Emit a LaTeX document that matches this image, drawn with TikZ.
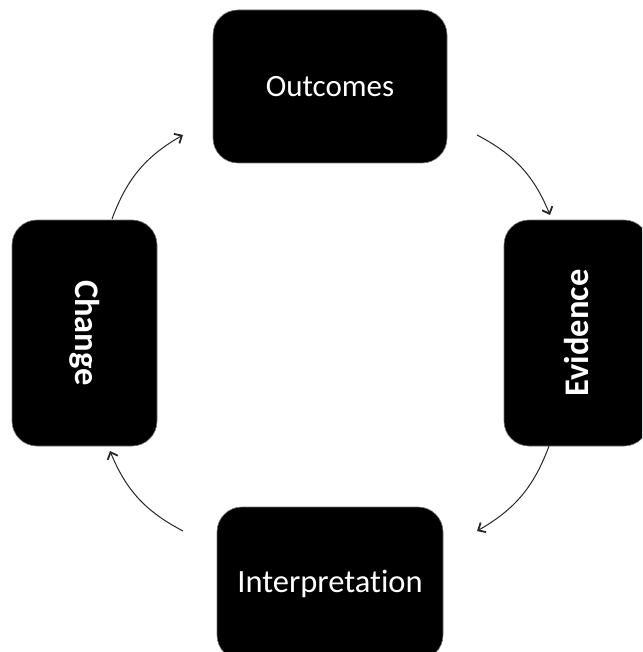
\documentclass[tikz,border=0pt]{standalone}
\usepackage{fontspec}
\setmainfont{Carlito}[Ligatures=NoCommon]
\usetikzlibrary{arrows.meta}
\begin{document}
\begin{tikzpicture}[x=1pt,y=-1pt,
  box/.style={fill=black,draw=black!55,line width=0.6pt,rounded corners=25pt,
    text=white,inner sep=0pt,font=\fontsize{31}{37}\selectfont},
  vbox/.style={box,font=\fontsize{34.5}{40}\selectfont\bfseries},
  flow/.style={-{Straight Barb[length=6pt,width=11pt,line width=1.8pt]},line width=1pt,black!85}]
\clip (0,0) rectangle (642,652);
\useasboundingbox (0,0) rectangle (642,652);
\node[box,minimum width=234pt,minimum height=153pt] (out) at (330,86.5) {Outcomes};
\node[vbox,rotate=90,minimum width=226pt,minimum height=145pt] (evi) at (576.5,333) {Evidence};
\node[box,minimum width=226pt,minimum height=153pt,font=\fontsize{32.5}{38}\selectfont] (int) at (330,583.5) {Interpretation};
\node[vbox,rotate=-90,minimum width=226pt,minimum height=145pt] (chg) at (84.5,333) {Change};
\coordinate (a1s) at (477,135);
\coordinate (a1e) at (550,215);
\coordinate (a2s) at (549,446);
\coordinate (a2e) at (477,531);
\coordinate (a3s) at (183,531);
\coordinate (a3e) at (110,451);
\coordinate (a4s) at (112,219);
\coordinate (a4e) at (183,135);
\draw[flow] (a1s) to[bend left=20] (a1e);
\draw[flow] (a2s) to[bend left=20] (a2e);
\draw[flow] (a3s) to[bend left=20] (a3e);
\draw[flow] (a4s) to[bend left=20] (a4e);
\end{tikzpicture}
\end{document}
